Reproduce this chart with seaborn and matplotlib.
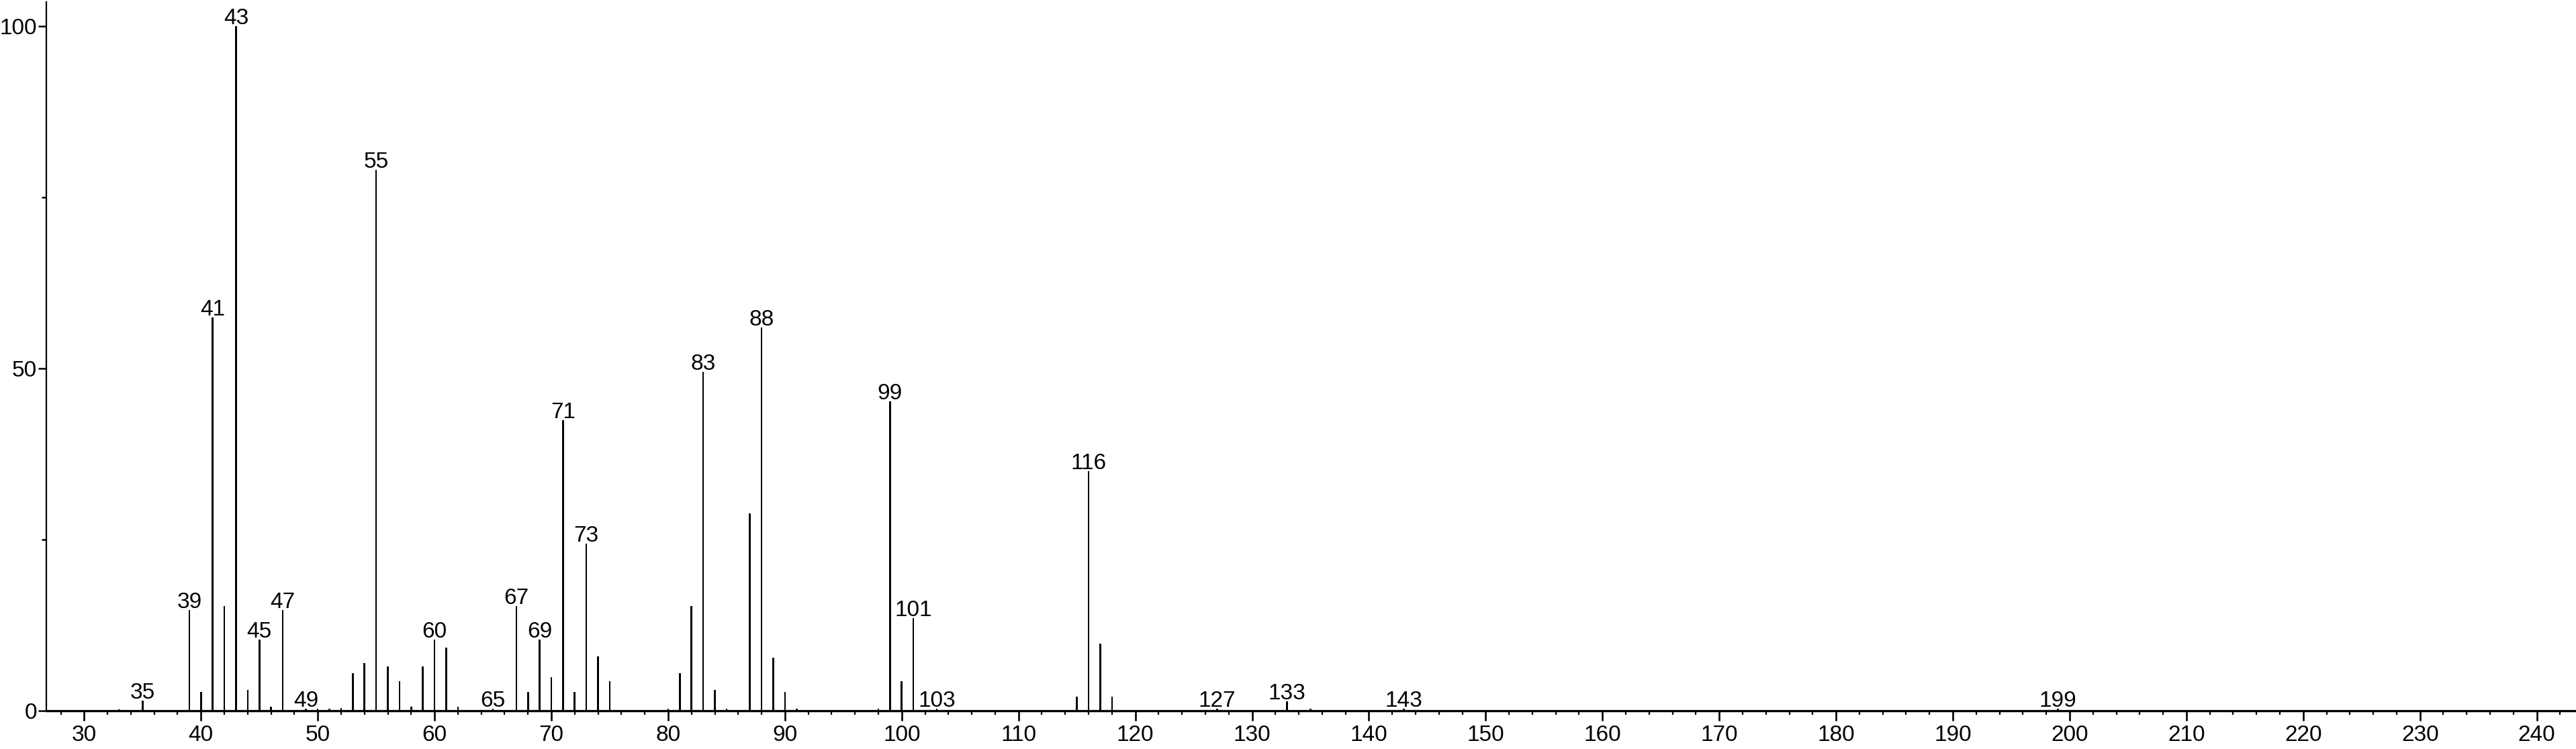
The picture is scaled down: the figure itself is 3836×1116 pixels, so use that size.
import matplotlib
matplotlib.use("Agg")
import matplotlib.pyplot as plt
from matplotlib.ticker import MultipleLocator, FixedLocator
import seaborn as sns
import pandas as pd

# ---- data (m/z and relative intensity) ----
mz = [33, 35, 39, 40, 41, 42, 43, 44, 45, 46, 47, 49, 50, 51, 52, 53, 54, 55,
      56, 57, 58, 59, 60, 61, 62, 65, 67, 68, 69, 70, 71, 72, 73, 74, 75, 80,
      81, 82, 83, 84, 85, 87, 88, 89, 90, 91, 98, 99, 100, 101, 103, 115, 116,
      117, 118, 127, 133, 135, 143, 199]
intensity = [0.2, 1.5, 14.7, 2.7, 57.4, 15.3, 100.0, 3.0, 10.4, 0.6, 14.7, 0.3,
             0.3, 0.3, 0.4, 5.5, 7.0, 79.0, 6.5, 4.3, 0.6, 6.5, 10.4, 9.2, 0.6,
             0.3, 15.3, 2.7, 10.4, 4.9, 42.4, 2.7, 24.4, 7.9, 4.3, 0.3, 5.5,
             15.3, 49.5, 3.0, 0.3, 28.8, 56.0, 7.7, 2.7, 0.3, 0.3, 45.2, 4.3,
             13.5, 0.3, 2.1, 35.0, 9.8, 2.1, 0.3, 1.4, 0.3, 0.3, 0.3]
labeled_mz = [35, 39, 41, 43, 45, 47, 49, 55, 60, 65, 67, 69, 71, 73, 83, 88,
              99, 101, 103, 116, 127, 133, 143, 199]
x_ticks = list(range(30, 241, 10))
y_ticks = [0, 50, 100]

df = pd.DataFrame({"mz": mz, "intensity": intensity})

sns.set_theme(style="ticks")
plt.rcParams["font.family"] = ["Liberation Sans", "DejaVu Sans"]

fig = plt.figure(figsize=(38.36, 11.16), dpi=100)
ax = fig.add_axes([69 / 3836, 57 / 1116, (3835 - 69) / 3836, (1113 - 57) / 1116])

sns.barplot(data=df, x="mz", y="intensity", native_scale=True, width=0.15,
            color="black", saturation=1, linewidth=0, errorbar=None, ax=ax)
for p in ax.patches:
    p.set_antialiased(False)

lookup = dict(zip(mz, intensity))
for m in labeled_mz:
    ax.annotate(str(m), xy=(m, lookup[m]), xytext=(0, 2.2),
                textcoords="offset points", ha="center", va="baseline",
                fontsize=24, color="black")

ax.set_xlim(26.76, 243.3)
ax.set_ylim(0, 103.5)
ax.xaxis.set_major_locator(FixedLocator(x_ticks))
ax.xaxis.set_minor_locator(MultipleLocator(2))
ax.yaxis.set_major_locator(FixedLocator(y_ticks))
ax.yaxis.set_minor_locator(FixedLocator([25, 75]))
ax.set_xticklabels([str(t) for t in x_ticks])
ax.set_yticklabels([str(t) for t in y_ticks])
ax.set_xlabel("")
ax.set_ylabel("")

for s in ["top", "right"]:
    ax.spines[s].set_visible(False)
ax.spines["bottom"].set_linewidth(2.4)
ax.spines["left"].set_linewidth(1.6)
ax.spines["bottom"].set_color("black")
ax.spines["left"].set_color("black")
ax.spines["bottom"].set_zorder(0.5)

ax.tick_params(axis="x", which="major", length=10.8, width=1.9, pad=4.5,
               labelsize=24, colors="black", direction="out")
ax.tick_params(axis="x", which="minor", length=4.3, width=1.6, colors="black",
               direction="out")
ax.tick_params(axis="y", which="major", length=8.6, width=1.8, pad=1.5,
               labelsize=24, colors="black", direction="out")
ax.tick_params(axis="y", which="minor", length=5, width=1.8, colors="black",
               direction="out")
ax.set_facecolor("white")
fig.patch.set_facecolor("white")

fig.savefig("out.png", dpi=100)
